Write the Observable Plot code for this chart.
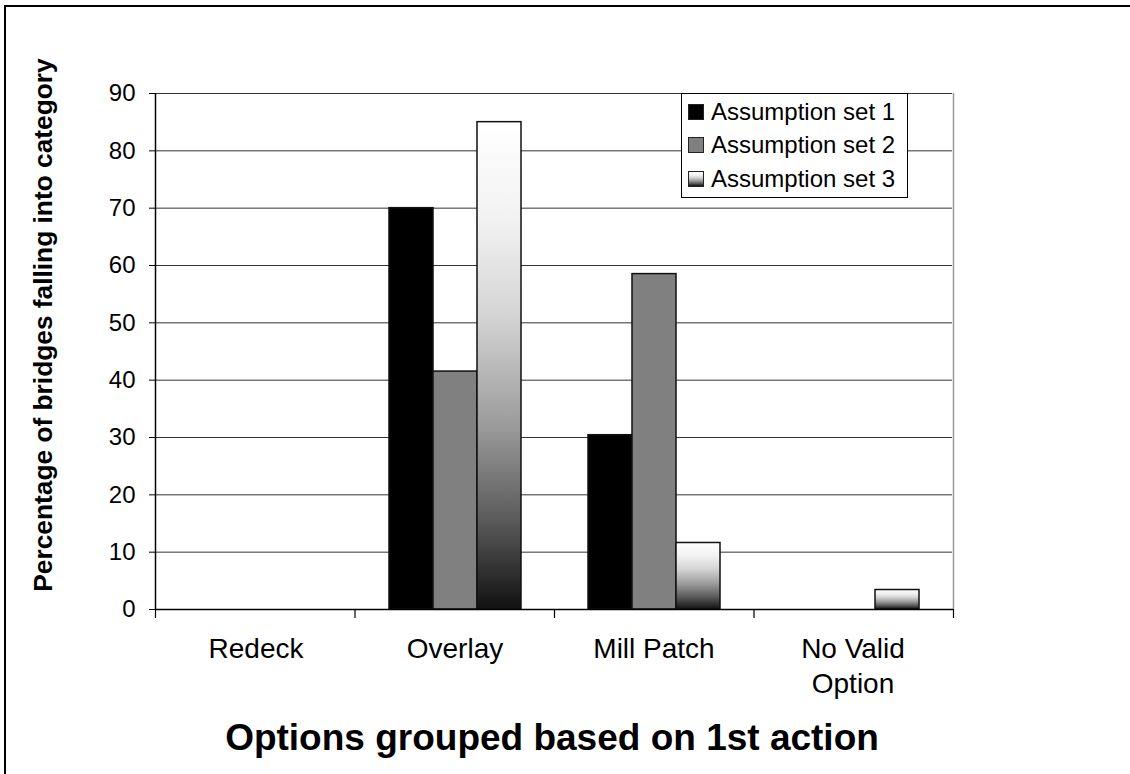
<!DOCTYPE html>
<html>
<head>
<meta charset="utf-8">
<script src="https://cdn.jsdelivr.net/npm/d3@7"></script>
<script src="https://cdn.jsdelivr.net/npm/@observablehq/plot@0.6"></script>
<style>
  html, body { margin: 0; padding: 0; overflow: hidden; background: #fff; }
  #wrap { position: relative; width: 1130px; height: 774px; overflow: hidden;
          font-family: "Liberation Sans", Arial, sans-serif; color: #000; }
  #wrap > svg { position: absolute; left: 0; top: 0; }
  .outer { position: absolute; left: 4px; top: 5px; width: 1300px; height: 1000px;
           border: 2px solid #000; box-sizing: border-box; }
  .xtitle { position: absolute; left: 102px; width: 900px; top: 718px; line-height: 40px;
            text-align: center; font-weight: bold; font-size: 37px; white-space: nowrap; }
  .ytitle { position: absolute; left: -257px; width: 600px; top: 310px; height: 30px; line-height: 30px;
            text-align: center; font-weight: bold; font-size: 26.3px; transform: rotate(-90deg); white-space: nowrap; }
  .legend { position: absolute; left: 681px; top: 93px; width: 227px; box-sizing: border-box;
            border: 1px solid #000; background: #fff; padding: 1px 0 1px 6px; }
  .legend .row { display: flex; align-items: center; height: 33.5px; font-size: 24px; white-space: nowrap; }
  .legend .sw { width: 14px; height: 14px; border: 1px solid #222; margin-right: 7px; flex: none; }
</style>
</head>
<body>
<div id="wrap"></div>
<script>
// ---- data ----
const categories = ["Redeck", "Overlay", "Mill Patch", "No Valid Option"];
const categoryLabels = ["Redeck", "Overlay", "Mill Patch", "No Valid\nOption"];
const seriesNames = ["Assumption set 1", "Assumption set 2", "Assumption set 3"];
const set1 = [0, 70, 30.4, 0];
const set2 = [0, 41.5, 58.5, 0];
const set3 = [0, 85, 11.6, 3.4];
const yTicks = [0, 10, 20, 30, 40, 50, 60, 70, 80, 90];
const xTitle = "Options grouped based on 1st action";
const yTitle = "Percentage of bridges falling into category";

// ---- styles ----
const FONT = '"Liberation Sans", Arial, sans-serif';
const W = 1130, H = 774;
const M = {marginLeft: 155, marginRight: 177, marginTop: 93, marginBottom: 165};
const seriesFills = ["#000000", "#808080", "url(#set3Gradient)"];
const seriesCss = ["#000000", "#808080",
  "linear-gradient(to bottom, #ffffff 0%, #f2f2f2 20%, #d4d4d4 40%, #9c9c9c 62%, #5a5a5a 82%, #111111 100%)"];

const seriesValues = [set1, set2, set3];
const rows = [];
categories.forEach((c, i) => seriesNames.forEach((s, j) => rows.push({category: c, series: s, value: seriesValues[j][i]})));
const labelOf = new Map(categories.map((c, i) => [c, categoryLabels[i]]));

const wrap = document.getElementById("wrap");

// gradient definitions
wrap.insertAdjacentHTML("beforeend", `<svg width="0" height="0" style="position:absolute"><defs>
  <linearGradient id="set3Gradient" x1="0" y1="0" x2="0" y2="1">
    <stop offset="0" stop-color="#ffffff"/>
    <stop offset="0.2" stop-color="#f2f2f2"/>
    <stop offset="0.4" stop-color="#d4d4d4"/>
    <stop offset="0.62" stop-color="#9c9c9c"/>
    <stop offset="0.82" stop-color="#5a5a5a"/>
    <stop offset="1" stop-color="#111111"/>
  </linearGradient></defs></svg>`);

// main chart: grid, bars, y axis, category labels
const chartA = Plot.plot({
  width: W, height: H, ...M,
  style: {fontFamily: FONT, fontSize: "24px", color: "#000", background: "transparent", overflow: "visible"},
  fx: {domain: categories, paddingInner: 0, paddingOuter: 0},
  x: {domain: seriesNames, paddingInner: 0, paddingOuter: 0.717, axis: null},
  y: {domain: [0, 90]},
  color: {domain: seriesNames, range: seriesFills},
  marks: [
    Plot.gridY(yTicks, {stroke: "#333", strokeOpacity: 1, strokeWidth: 1}),
    Plot.barY(rows, {fx: "category", x: "series", y: "value", fill: "series",
                     stroke: "#111", strokeWidth: 1.5, filter: d => d.value > 0}),
    Plot.axisY(yTicks, {tickSize: 7, tickPadding: 14, label: null, fontSize: 24}),
    Plot.axisFx({anchor: "bottom", tickSize: 0, tickPadding: 24, label: null,
                 tickFormat: c => labelOf.get(c), fontSize: 28, lineHeight: 1.25})
  ]
});
wrap.appendChild(chartA);

// overlay: axis lines, category boundary ticks, plot area right border
const chartB = Plot.plot({
  width: W, height: H, ...M,
  style: {fontFamily: FONT, background: "transparent", overflow: "visible"},
  x: {domain: [0, categories.length]},
  y: {domain: [0, 90], axis: null},
  marks: [
    Plot.ruleX([categories.length], {stroke: "#999", strokeWidth: 1.5}),
    Plot.ruleX([0], {stroke: "#000", strokeWidth: 1.5}),
    Plot.ruleY([0], {stroke: "#000", strokeWidth: 1.5}),
    Plot.axisX(d3.range(categories.length + 1), {tickSize: 9, tickFormat: () => "", label: null, strokeWidth: 1.2})
  ]
});
chartB.style.pointerEvents = "none";
wrap.appendChild(chartB);

// legend
const legend = document.createElement("div");
legend.className = "legend";
seriesNames.forEach((s, i) => {
  const row = document.createElement("div");
  row.className = "row";
  const sw = document.createElement("span");
  sw.className = "sw";
  sw.style.background = seriesCss[i];
  row.appendChild(sw);
  row.appendChild(document.createTextNode(s));
  legend.appendChild(row);
});
wrap.appendChild(legend);

// titles and outer frame
const xt = document.createElement("div"); xt.className = "xtitle"; xt.textContent = xTitle; wrap.appendChild(xt);
const yt = document.createElement("div"); yt.className = "ytitle"; yt.textContent = yTitle; wrap.appendChild(yt);
const outer = document.createElement("div"); outer.className = "outer"; wrap.appendChild(outer);
</script>
</body>
</html>
